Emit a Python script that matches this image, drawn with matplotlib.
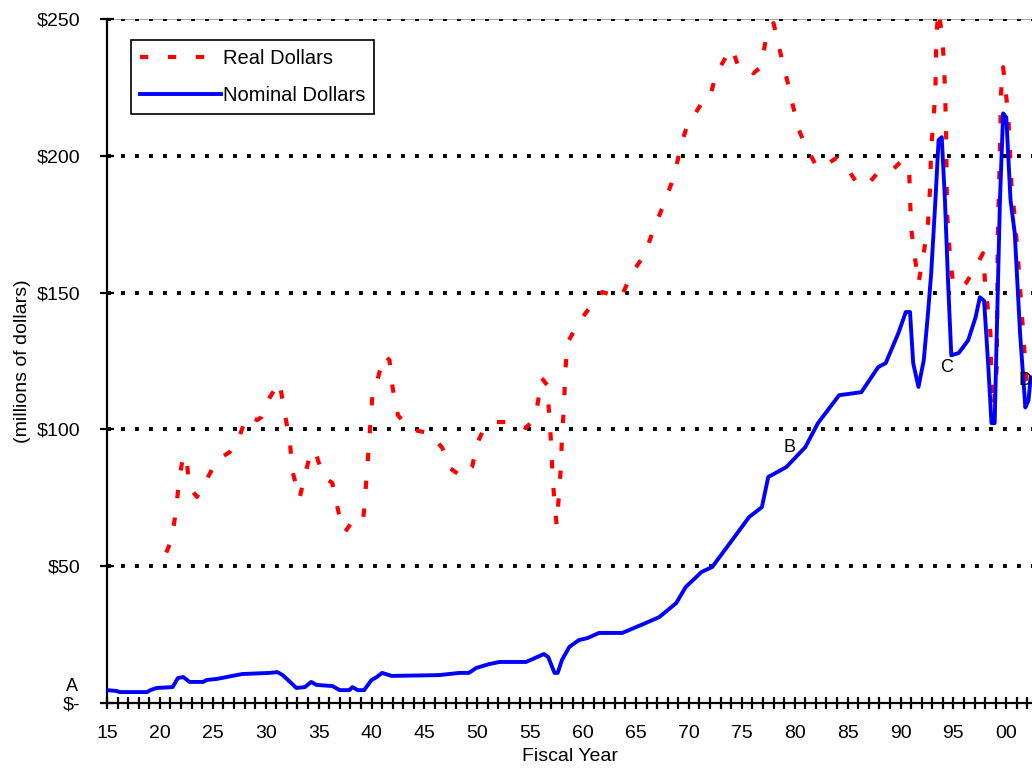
import matplotlib
matplotlib.use("Agg")
import matplotlib.pyplot as plt
from matplotlib.ticker import MultipleLocator, FixedLocator

plt.rcParams['font.family'] = ['Liberation Sans', 'DejaVu Sans']

# nominal dollars (millions)
nom_years = [1915.0, 1915.9, 1916.2, 1918.8, 1919.1, 1919.7, 1921.2, 1921.7, 1922.2, 1922.8,
             1924.1, 1924.4, 1925.4, 1926.3, 1927.8, 1930.4, 1931.1, 1931.6, 1932.3, 1932.9,
             1933.7, 1934.3, 1934.8, 1936.3, 1937.0, 1937.9, 1938.2, 1938.7, 1939.3, 1940.0,
             1940.5, 1941.0, 1941.9, 1946.4, 1948.3, 1949.2, 1949.9, 1951.1, 1952.1, 1954.6,
             1955.2, 1956.3, 1956.7, 1957.3, 1957.6, 1958.0, 1958.7, 1959.6, 1960.4, 1961.5,
             1963.7, 1965.9, 1967.2, 1968.8, 1969.7, 1971.2, 1972.2, 1974.1, 1975.7, 1976.9,
             1977.5, 1979.2, 1981.0, 1982.2, 1984.2, 1986.3, 1987.9, 1988.6, 1989.8, 1990.5,
             1990.9, 1991.2, 1991.7, 1992.2, 1992.6, 1992.9, 1993.3, 1993.6, 1993.9, 1994.2,
             1994.5, 1994.8, 1995.5, 1996.4, 1997.1, 1997.5, 1997.9, 1998.1, 1998.3, 1998.6,
             1998.9, 1999.1, 1999.4, 1999.7, 2000.0, 2000.4, 2000.8, 2001.3, 2001.8, 2002.1,
             2002.3]
nom_vals = [4.7, 4.4, 4.0, 4.0, 4.7, 5.5, 5.8, 9.1, 9.5, 7.7,
            7.7, 8.4, 8.8, 9.5, 10.6, 11.0, 11.3, 10.2, 7.7, 5.5,
            5.8, 7.7, 6.6, 6.2, 4.7, 4.7, 5.8, 4.7, 4.7, 8.4,
            9.5, 11.0, 9.9, 10.2, 11.0, 11.0, 12.8, 14.2, 15.0, 15.0,
            16.0, 17.9, 16.8, 11.0, 11.0, 15.7, 20.5, 23.0, 23.7, 25.6,
            25.6, 29.2, 31.4, 36.5, 42.4, 47.9, 49.7, 59.6, 68.0, 71.6,
            82.6, 86.2, 93.5, 102.3, 112.5, 113.6, 122.8, 124.2, 135.2, 142.9,
            142.9, 124.2, 115.5, 125.3, 142.5, 157.0, 183.8, 205.7, 206.8, 183.8,
            153.5, 127.1, 127.9, 132.6, 141.0, 148.3, 147.0, 135.2, 122.8, 102.3,
            102.3, 135.2, 183.8, 215.5, 214.0, 183.8, 171.7, 135.2, 108.0, 110.7,
            119.0]

# real dollars (millions)
real_years = [1920.6, 1921.1, 1921.5, 1921.8, 1922.2, 1922.5, 1922.8, 1923.5, 1924.4, 1925.4,
              1926.6, 1927.3, 1928.2, 1929.2, 1929.6, 1930.4, 1931.3, 1931.8, 1932.3, 1932.5,
              1933.2, 1933.9, 1934.3, 1934.8, 1935.4, 1936.3, 1936.9, 1937.5, 1938.4, 1939.2,
              1939.3, 1939.5, 1939.7, 1939.9, 1940.1, 1940.5, 1941.2, 1941.7, 1942.0, 1942.5,
              1943.6, 1945.5, 1946.7, 1947.4, 1948.6, 1949.5, 1950.0, 1950.7, 1951.8, 1953.3,
              1954.6, 1955.1, 1955.6, 1956.1, 1956.6, 1956.8, 1957.0, 1957.1, 1957.3, 1957.5,
              1957.7, 1957.9, 1958.0, 1958.2, 1958.3, 1958.5, 1959.6, 1960.8, 1961.8, 1963.6,
              1964.6, 1965.8, 1966.7, 1967.6, 1968.6, 1969.3, 1969.8, 1971.2, 1971.9, 1972.6,
              1974.0, 1974.2, 1974.7, 1975.7, 1976.1, 1976.8, 1977.3, 1978.0, 1978.7, 1979.4,
              1979.7, 1980.4, 1981.0, 1982.0, 1982.7, 1983.2, 1983.9, 1985.1, 1986.0, 1987.0,
              1987.9, 1989.2, 1990.0, 1990.8, 1990.9, 1991.0, 1991.3, 1991.7, 1992.2, 1992.6,
              1992.8, 1992.9, 1993.1, 1993.3, 1993.4, 1993.6, 1993.9, 1994.1, 1994.2, 1994.3,
              1994.4, 1994.7, 1995.0, 1995.7, 1996.2, 1997.1, 1997.8, 1998.0, 1998.5, 1998.6,
              1998.8, 1999.1, 1999.2, 1999.4, 1999.5, 1999.7, 2000.2, 2000.5, 2000.8, 2001.1,
              2001.6, 2001.9, 2002.3]
real_vals = [55.0, 59.6, 69.8, 80.7, 90.6, 89.5, 78.9, 75.3, 81.5, 88.8,
             91.7, 95.0, 104.9, 103.4, 104.5, 111.8, 117.3, 106.0, 95.0, 85.1,
             74.9, 86.2, 92.4, 90.6, 82.9, 80.4, 69.4, 62.5, 67.6, 66.9,
             70.5, 80.7, 91.3, 102.3, 113.3, 117.3, 127.1, 125.3, 115.1, 105.2,
             100.1, 98.6, 93.2, 85.9, 82.6, 86.2, 95.0, 100.8, 102.7, 102.7,
             100.5, 102.7, 107.0, 118.7, 116.2, 105.2, 93.5, 84.0, 73.0, 65.0,
             75.3, 86.2, 97.2, 108.9, 119.8, 131.5, 139.2, 145.4, 150.2, 148.3,
             157.1, 163.7, 173.5, 182.0, 192.5, 204.6, 210.5, 219.2, 220.3, 230.2,
             239.3, 237.9, 232.4, 232.0, 230.2, 232.4, 243.0, 248.5, 236.8, 225.8,
             220.3, 209.4, 203.9, 196.6, 195.5, 197.3, 199.1, 194.7, 189.3, 190.0,
             194.0, 194.7, 197.7, 196.6, 184.9, 173.9, 164.4, 153.5, 164.4, 175.4,
             188.5, 203.1, 211.9, 224.0, 244.8, 253.0, 244.8, 234.9, 224.0, 211.9,
             179.0, 161.9, 152.7, 152.0, 153.5, 159.3, 164.4, 153.5, 135.2, 116.9,
             108.0, 122.8, 171.7, 202.0, 222.9, 232.4, 214.0, 188.5, 177.6, 163.0,
             135.2, 118.0, 115.0]

y_ticks = [0, 50, 100, 150, 200, 250]
y_labels = ['$-', '$50', '$100', '$150', '$200', '$250']
x_ticks = list(range(1915, 2001, 5))
x_labels = ['%02d' % (y % 100) for y in x_ticks]

point_labels = ['A', 'B', 'C', 'D']
point_x = [1911.7, 1979.5, 1994.4, 2002.4]
point_y = [6.2, 93.5, 122.8, 118.0]
point_ha = ['center', 'center', 'center', 'right']

fig = plt.figure(figsize=(10.32, 7.69), dpi=100)
ax = fig.add_axes([107 / 1032, 66 / 769, 1 - 107 / 1032, 684 / 769])

for v in y_ticks[1:]:
    if v == 250:
        ax.axhline(v, color='#999999', lw=1.2, zorder=1)
    ax.axhline(v, color='black', lw=2.8, linestyle=(0, (1, 2.6)), zorder=1)

ax.plot(real_years, real_vals, color='#ff0000', lw=3, linestyle=(0, (2, 4.7)),
        label='Real Dollars', zorder=3)
ax.plot(nom_years, nom_vals, color='#0000ff', lw=2.8, label='Nominal Dollars', zorder=4)

ax.set_xlim(1915, 1915 + (1032 - 107) / 10.58)
ax.set_ylim(0, 250)

ax.spines['top'].set_visible(False)
ax.spines['right'].set_visible(False)
ax.spines['left'].set_linewidth(1.6)
ax.spines['bottom'].set_linewidth(1.6)

ax.yaxis.set_major_locator(FixedLocator(y_ticks))
ax.set_yticklabels(y_labels)
ax.xaxis.set_major_locator(FixedLocator(x_ticks))
ax.set_xticklabels(x_labels)
ax.xaxis.set_minor_locator(MultipleLocator(1))
ax.tick_params(axis='x', which='both', direction='inout', length=9, width=1.6,
               labelsize=14, pad=11)
ax.tick_params(axis='y', direction='inout', length=10, width=1.6, labelsize=14, pad=14)

ax.set_xlabel('Fiscal Year', fontsize=14, labelpad=5)
ax.set_ylabel('(millions of dollars)', fontsize=14, labelpad=4)

for lab, px, py, ha in zip(point_labels, point_x, point_y, point_ha):
    ax.text(px, py, lab, fontsize=13, ha=ha, va='center', clip_on=False, zorder=5)

leg = ax.legend(loc='upper left', bbox_to_anchor=(131 / 1032, 1 - 40 / 769),
                bbox_transform=fig.transFigure, borderaxespad=0, fontsize=14.5,
                handlelength=4.0, handletextpad=0.1, labelspacing=0.9,
                fancybox=False, framealpha=1, edgecolor='black', borderpad=0.45)
leg.get_frame().set_linewidth(1.2)

fig.savefig('out.png', dpi=100)
